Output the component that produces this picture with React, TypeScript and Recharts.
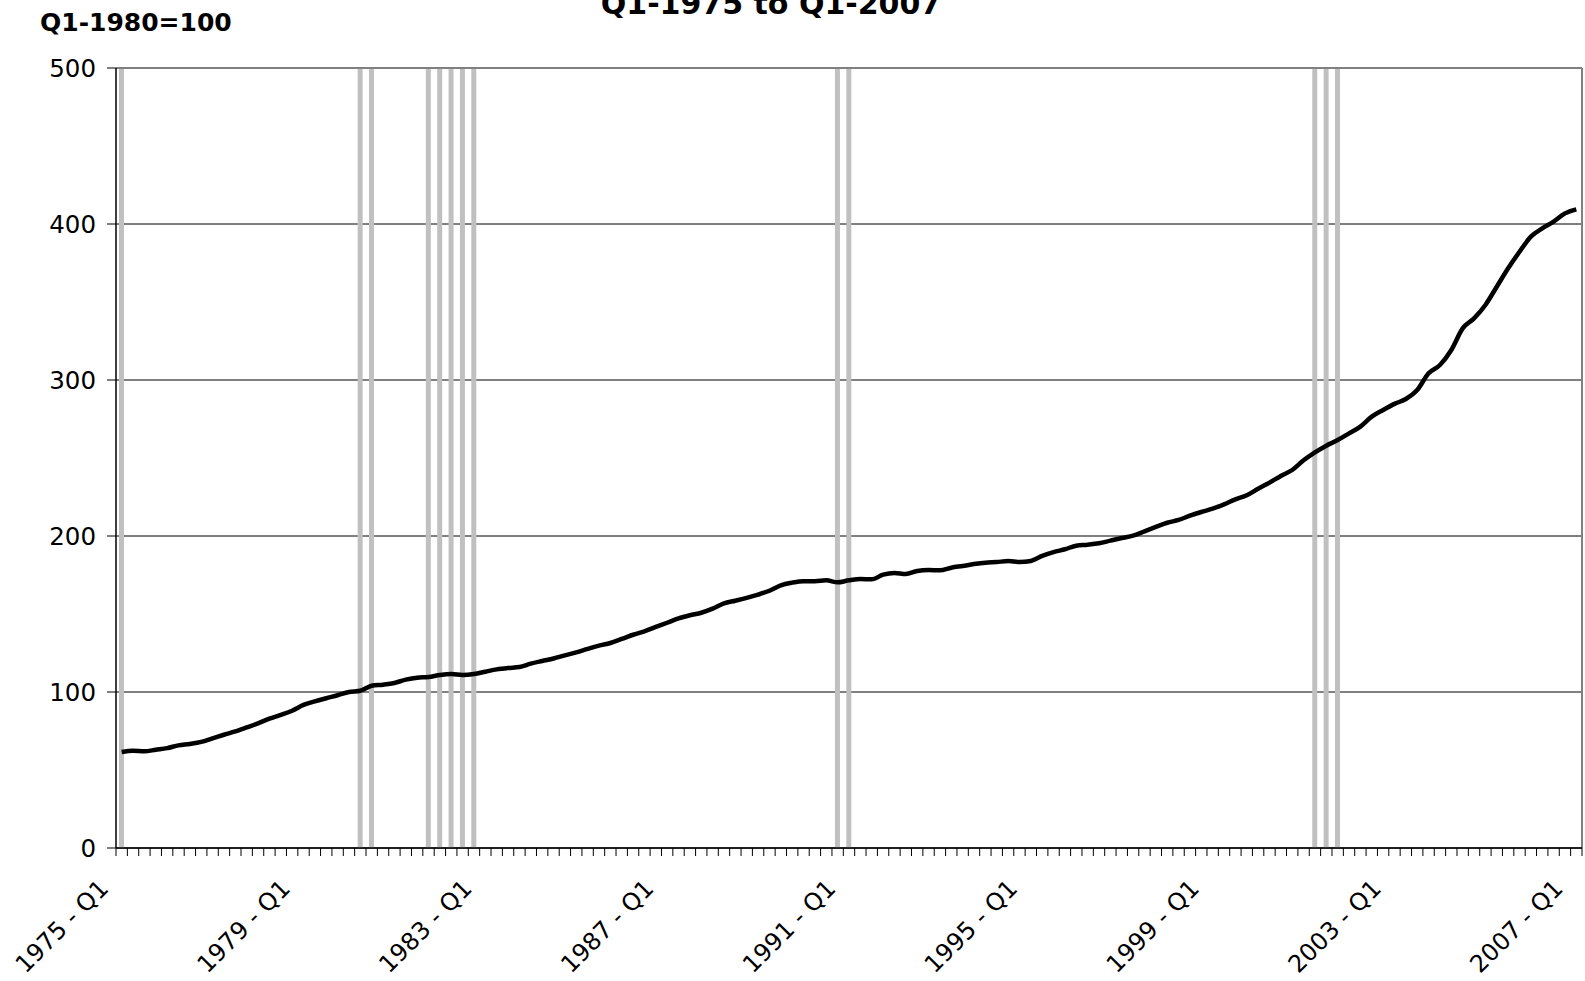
import { ComposedChart, Bar, Line, XAxis, YAxis, CartesianGrid, ReferenceLine } from 'recharts';

const START_YEAR = 1975;

// index, Q1-1980 = 100, one value per quarter from 1975 Q1 to 2007 Q1
const indexValues = [
  61.5, 62.4, 62, 63, 64, 65.8, 66.7, 68, 70.3, 72.6,
  74.8, 77.3, 79.9, 82.9, 85.3, 88, 91.7, 94, 96, 97.9,
  100, 100.8, 104, 104.7, 105.8, 107.9, 109.2, 109.6, 110.9, 111.5,
  110.9, 111.5, 113, 114.5, 115.4, 116, 118.2, 119.9, 121.5, 123.5,
  125.4, 127.6, 129.7, 131.4, 134, 136.7, 138.9, 141.7, 144.4, 147.2,
  149.2, 150.8, 153.4, 156.8, 158.5, 160.3, 162.4, 164.9, 168.4, 170.1,
  171, 171, 171.6, 170.3, 171.6, 172.4, 172.2, 175.2, 176.3, 175.6,
  177.6, 178.2, 178, 179.7, 180.8, 182, 182.9, 183.3, 183.9, 183.3,
  184, 187.2, 189.7, 191.5, 193.8, 194.4, 195.3, 197, 198.7, 200.2,
  203, 205.8, 208.5, 210.3, 213, 215.4, 217.5, 220.3, 223.5, 226.1,
  230.3, 234.2, 238.5, 242.3, 248.5, 253.6, 257.9, 261.5, 265.8, 270.1,
  276.5, 280.8, 284.7, 287.8, 293.6, 304.3, 309.6, 319.2, 333.1, 339.5,
  348.1, 359.8, 371.6, 382.2, 391.9, 397.2, 401.5, 406.8, 409.4,
];

// quarters (index from 1975 Q1) drawn as grey recession bars
const recessionQuarters = [0, 21, 22, 27, 28, 29, 30, 31, 63, 64, 105, 106, 107];

const tickLabels = ['1975 - Q1', '1979 - Q1', '1983 - Q1', '1987 - Q1', '1991 - Q1', '1995 - Q1', '1999 - Q1', '2003 - Q1', '2007 - Q1'];
const tickLabelQuarters = [0, 16, 32, 48, 64, 80, 96, 112, 128];
const yTicks = [0, 100, 200, 300, 400, 500];
const Y_MAX = 500;

const FONT = '"DejaVu Sans", Verdana, sans-serif';

const data = indexValues.map((v, i) => ({
  x: i + 0.5,
  quarter: `${START_YEAR + Math.floor(i / 4)} - Q${(i % 4) + 1}`,
  value: v,
  recession: recessionQuarters.includes(i) ? Y_MAX : null,
}));

const nQuarters = indexValues.length;
// tick marks sit between quarters, labels sit on the quarter centre
const boundaryTicks = Array.from({ length: nQuarters + 1 }, (_, i) => i);
const labelTicks = tickLabelQuarters.map(q => q + 0.5);
const xTicks = [...boundaryTicks, ...labelTicks].sort((a, b) => a - b);

const XTick = (props: any) => {
  const { x, y, payload } = props;
  const v = payload.value;
  if (Number.isInteger(v)) {
    return <line x1={x} x2={x} y1={y} y2={y + 8} stroke="#000" strokeWidth={1} />;
  }
  const idx = tickLabelQuarters.indexOf(v - 0.5);
  const tx = x - 12;
  const ty = y + 42;
  return (
    <text
      x={tx}
      y={ty}
      transform={`rotate(-45 ${tx} ${ty})`}
      textAnchor="end"
      fontSize={24}
      fontFamily={FONT}
      fill="#000"
    >
      {tickLabels[idx]}
    </text>
  );
};

export default function App() {
  return (
    <div style={{ position: 'absolute', left: 0, top: 0, width: 1585, height: 981, background: '#fff' }}>
      <ComposedChart
        width={1585}
        height={981}
        data={data}
        margin={{ top: 68, right: 3, bottom: 0, left: 0 }}
      >
        <CartesianGrid vertical={false} stroke="#000" strokeWidth={1} />
        <XAxis
          dataKey="x"
          type="number"
          domain={[0, nQuarters]}
          ticks={xTicks}
          interval={0}
          height={133}
          tickSize={0}
          tickMargin={0}
          tickLine={false}
          axisLine={{ stroke: '#000', strokeWidth: 1.5 }}
          tick={<XTick />}
        />
        <YAxis
          domain={[0, Y_MAX]}
          ticks={yTicks}
          interval={0}
          width={116}
          tickSize={9}
          tickMargin={11}
          axisLine={{ stroke: '#000', strokeWidth: 1.5 }}
          tickLine={{ stroke: '#000' }}
          tick={{ fill: '#000', fontSize: 24.5, fontFamily: FONT }}
        />
        <Bar dataKey="recession" fill="#c0c0c0" barSize={5} isAnimationActive={false} />
        <Line
          dataKey="value"
          type="monotone"
          stroke="#000"
          strokeWidth={4.5}
          dot={false}
          activeDot={false}
          isAnimationActive={false}
        />
        <ReferenceLine y={Y_MAX} stroke="#808080" strokeWidth={2} />
        <ReferenceLine x={nQuarters} stroke="#808080" strokeWidth={2} />
      </ComposedChart>
      <svg
        width={1585}
        height={981}
        style={{ position: 'absolute', left: 0, top: 0, pointerEvents: 'none' }}
      >
        <text x={771} y={14} textAnchor="middle" fontSize={30} fontWeight="bold" fontFamily={FONT} fill="#000">
          Q1-1975 to Q1-2007
        </text>
        <text x={40} y={31} fontSize={25} fontWeight="bold" fontFamily={FONT} fill="#000">
          Q1-1980=100
        </text>
      </svg>
    </div>
  );
}
